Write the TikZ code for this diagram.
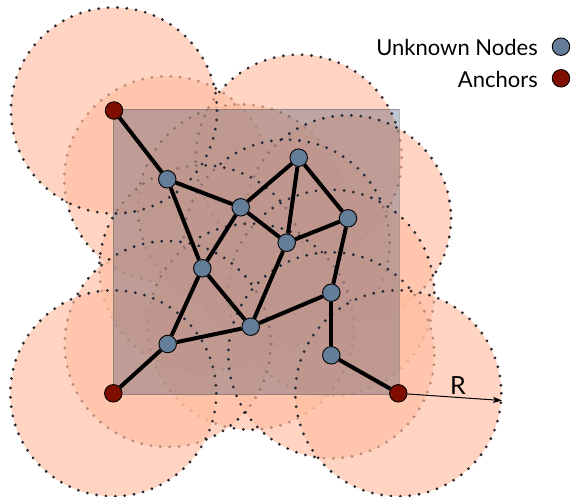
\documentclass[tikz,border=0pt]{standalone}
\usepackage{fontspec}
\setmainfont{Lato}
\usetikzlibrary{arrows.meta}
\definecolor{unk}{RGB}{100,125,152}
\definecolor{anc}{RGB}{128,14,0}
\definecolor{disk}{RGB}{255,190,162}
\definecolor{sq}{RGB}{20,45,85}
\definecolor{dotc}{RGB}{40,40,48}
\begin{document}
\begin{tikzpicture}[x=1pt,y=-1pt,
  unknode/.style={circle,draw=black,line width=0.9pt,fill=unk,minimum size=17.5pt,inner sep=0pt},
  anchornode/.style={circle,draw=black,line width=0.9pt,fill=anc,minimum size=17.5pt,inner sep=0pt},
  rangedisk/.style={fill=disk,fill opacity=0.66,draw=dotc,line width=3.1pt,line cap=round,dash pattern=on 0pt off 9.4pt},
  regionsq/.style={fill=sq,fill opacity=0.27,draw=black!60,draw opacity=0.5,line width=0.8pt},
  link/.style={line width=4pt,black},
  legendtext/.style={anchor=base east,font=\fontsize{22}{26}\selectfont,inner sep=0pt}]
\useasboundingbox (0,0) rectangle (572,496);
% positions
\coordinate (pa1) at (114,110.5);
\coordinate (pa2) at (113.3,393.3);
\coordinate (pa3) at (398.3,393.3);
\coordinate (p1) at (167.3,179.3);
\coordinate (p2) at (240.7,207.3);
\coordinate (p3) at (298.7,157.7);
\coordinate (p4) at (348,218.3);
\coordinate (p5) at (286.7,242.7);
\coordinate (p6) at (202.3,268.3);
\coordinate (p7) at (331.3,292.7);
\coordinate (p8) at (250.7,326.7);
\coordinate (p9) at (167.7,344);
\coordinate (p10) at (331.3,355.3);
% ranges
\foreach \p in {p1,p2,p3,p4,p5,p6,p7,p8,p9,p10,pa1,pa2,pa3}
  \draw[rangedisk] (\p) circle[radius=103];
% deployment region
\draw[regionsq] (113,109) rectangle (399,394.5);
% nodes
\node[anchornode] (a1) at (pa1) {};
\node[anchornode] (a2) at (pa2) {};
\node[anchornode] (a3) at (pa3) {};
\node[unknode] (u1) at (p1) {};
\node[unknode] (u2) at (p2) {};
\node[unknode] (u3) at (p3) {};
\node[unknode] (u4) at (p4) {};
\node[unknode] (u5) at (p5) {};
\node[unknode] (u6) at (p6) {};
\node[unknode] (u7) at (p7) {};
\node[unknode] (u8) at (p8) {};
\node[unknode] (u9) at (p9) {};
\node[unknode] (u10) at (p10) {};
% links
\draw[link] (a1) -- (u1);
\draw[link] (u1) -- (u2);
\draw[link] (u1) -- (u6);
\draw[link] (u2) -- (u3);
\draw[link] (u2) -- (u6);
\draw[link] (u2) -- (u5);
\draw[link] (u3) -- (u5);
\draw[link] (u3) -- (u4);
\draw[link] (u5) -- (u4);
\draw[link] (u6) -- (u9);
\draw[link] (u6) -- (u8);
\draw[link] (u5) -- (u8);
\draw[link] (u8) -- (u9);
\draw[link] (u8) -- (u7);
\draw[link] (u4) -- (u7);
\draw[link] (u7) -- (u10);
\draw[link] (u10) -- (a3);
\draw[link] (u9) -- (a2);
% range arrow
\coordinate (rend) at (502,400.5);
\draw[line width=1pt,-{Stealth[length=9pt,width=6pt,inset=2pt]}] (a3) -- (rend);
\node[font=\fontsize{25}{28}\selectfont,inner sep=0pt] (rlab) at (458,386) {R};
% legend
\node[unknode] (lu) at (561,46.7) {};
\node[anchornode] (la) at (561,78.3) {};
\node[legendtext] (lut) at (538,55) {Unknown Nodes};
\node[legendtext] (lat) at (538,87) {Anchors};
\end{tikzpicture}
\end{document}
